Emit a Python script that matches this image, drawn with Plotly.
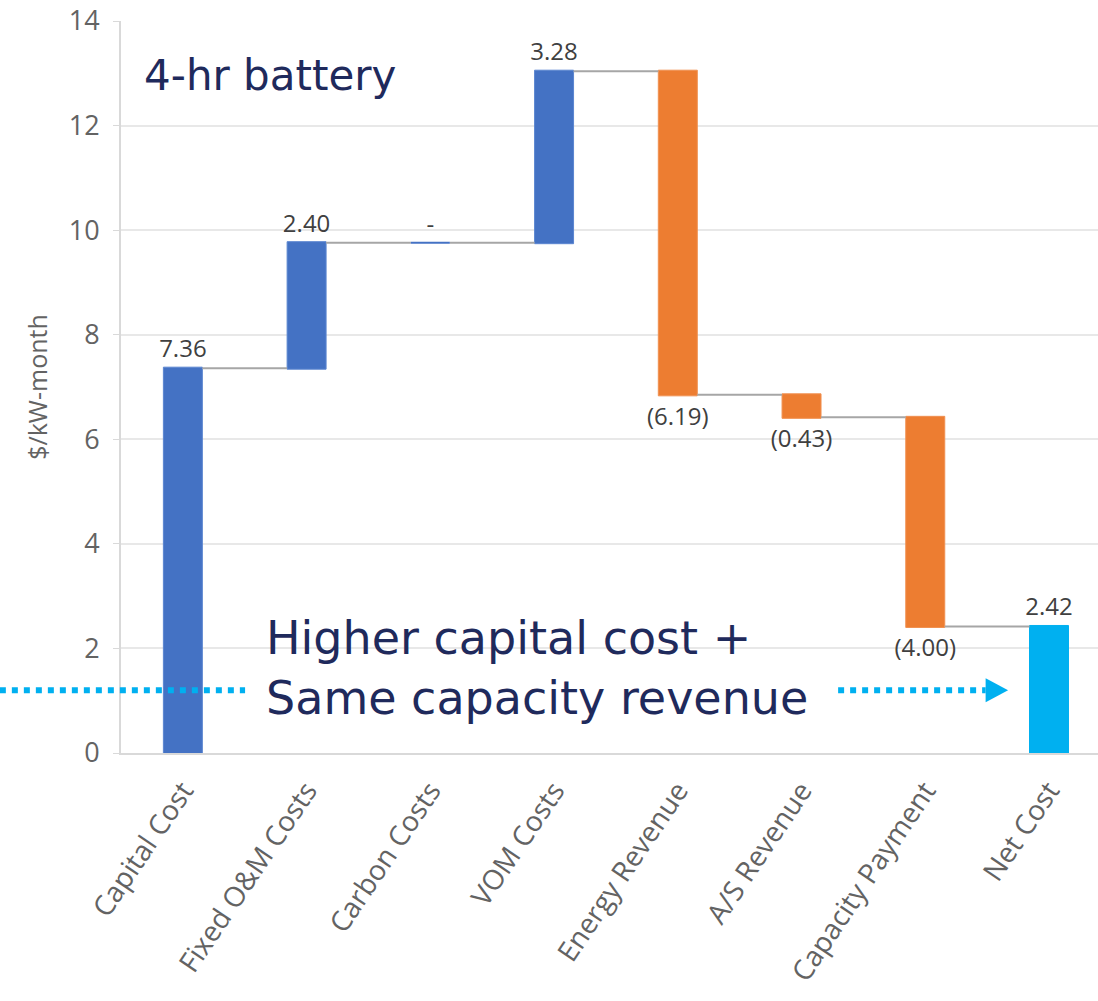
import plotly.graph_objects as go

# Monthly cost build-up for a 4-hr battery, $/kW-month
categories = ["Capital Cost", "Fixed O&M Costs", "Carbon Costs", "VOM Costs",
              "Energy Revenue", "A/S Revenue", "Capacity Payment", "Net Cost"]
deltas = [7.36, 2.40, 0.00, 3.28, -6.19, -0.43, -4.00, None]
measures = ["relative"] * 7 + ["total"]
y_ticks = [0, 2, 4, 6, 8, 10, 12, 14]


def fmt(v):
    if v == 0:
        return "-"
    if v < 0:
        return f"({abs(v):.2f})"
    return f"{v:.2f}"


net_total = round(sum(d for d in deltas if d is not None), 2)
labels = [fmt(d) for d in deltas[:-1]] + [fmt(net_total)]
y_values = [d if d is not None else 0 for d in deltas]

BAR_GAP = 0.685

fig = go.Figure()
fig.add_trace(go.Waterfall(
    x=categories,
    y=y_values,
    measure=measures,
    text=labels,
    textposition="outside",
    constraintext="none",
    textfont=dict(family="Open Sans", size=24, color="#404040"),
    increasing=dict(marker=dict(color="#4472C4", line=dict(color="#5B86D0", width=1))),
    decreasing=dict(marker=dict(color="#ED7D31", line=dict(color="#F09050", width=1))),
    totals=dict(marker=dict(color="#00B0F0", line=dict(color="#00B0F0", width=1))),
    connector=dict(line=dict(color="#A6A6A6", width=2), mode="between"),
    cliponaxis=False,
    hoverinfo="skip",
))

# zero-height steps are drawn as a thin line at their running level
running = 0.0
for i, d in enumerate(deltas[:-1]):
    if d == 0:
        fig.add_shape(type="line", xref="x", yref="y",
                      x0=i - (1 - BAR_GAP) / 2, x1=i + (1 - BAR_GAP) / 2,
                      y0=running, y1=running,
                      line=dict(color="#4472C4", width=2))
    running += d

fig.update_layout(
    width=1098, height=1001,
    margin=dict(l=121, r=0, t=21, b=248),
    plot_bgcolor="white", paper_bgcolor="white",
    showlegend=False,
    waterfallgap=BAR_GAP,
    font=dict(family="Open Sans", color="#595959"),
)

fig.update_xaxes(
    range=[-0.5, 7.396],
    tickangle=-56,
    tickfont=dict(family="Open Sans", size=28, color="#636363"),
    showgrid=False,
    showline=True, linecolor="#D9D9D9", linewidth=2,
    ticks="outside", ticklen=8, tickcolor="rgba(0,0,0,0)",
)

fig.update_yaxes(
    range=[0, 14],
    tickvals=y_ticks,
    ticktext=[str(t) for t in y_ticks],
    tickfont=dict(family="Open Sans", size=27, color="#636363"),
    showgrid=True, gridcolor="#E8E8E8", gridwidth=1.5,
    showline=True, linecolor="#D9D9D9", linewidth=2,
    zeroline=False,
    ticks="outside", ticklen=6, tickcolor="#D9D9D9",
    ticklabelstandoff=8,
    title=dict(text="$/kW-month", font=dict(family="Open Sans", size=25, color="#636363"),
               standoff=14),
)

navy = "#1F2A5C"
fig.add_annotation(
    xref="paper", yref="paper", x=0.022, y=0.926, xanchor="left", yanchor="middle",
    text="4-hr battery", showarrow=False,
    font=dict(family="DejaVu Sans", size=42, color=navy),
)
fig.add_annotation(
    xref="paper", yref="y", x=0.146, y=1.62, xanchor="left", yanchor="middle",
    text="Higher capital cost +<br>Same capacity revenue", showarrow=False, align="left",
    font=dict(family="DejaVu Sans", size=46, color=navy),
)

# dotted pointer lines leading to the net cost bar
arrow_y = 1.2
cyan = "#00B0F0"
fig.add_shape(type="line", xref="paper", yref="y",
              x0=-0.124, x1=0.127, y0=arrow_y, y1=arrow_y,
              line=dict(color=cyan, width=6, dash="dot"))
fig.add_shape(type="line", xref="paper", yref="y",
              x0=0.734, x1=0.885, y0=arrow_y, y1=arrow_y,
              line=dict(color=cyan, width=6, dash="dot"))
fig.add_shape(type="path", xref="paper", yref="y",
              path=f"M 0.885,{arrow_y + 0.23} L 0.908,{arrow_y} L 0.885,{arrow_y - 0.23} Z",
              fillcolor=cyan, line=dict(width=0))

fig.write_html("out.html")
